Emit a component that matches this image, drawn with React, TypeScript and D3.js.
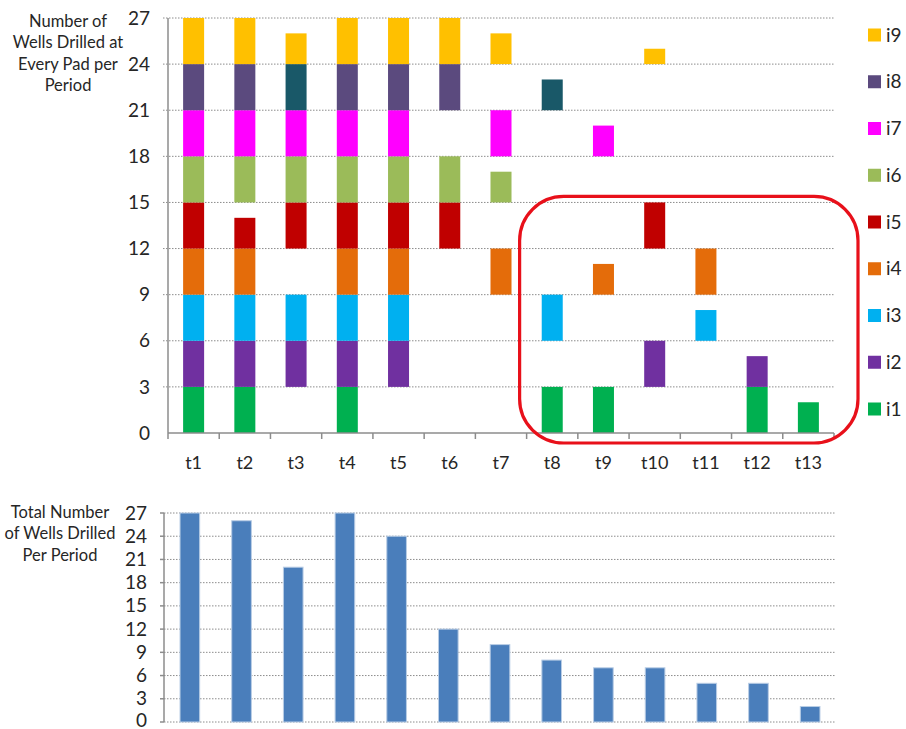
import React from 'react';
import * as d3 from 'd3';

const periods = ['t1', 't2', 't3', 't4', 't5', 't6', 't7', 't8', 't9', 't10', 't11', 't12', 't13'];
const pads = ['i1', 'i2', 'i3', 'i4', 'i5', 'i6', 'i7', 'i8', 'i9'];
// wells drilled at each pad (rows) in each period (columns)
const wellsI1 = [3, 3, 0, 3, 0, 0, 0, 3, 3, 0, 0, 3, 2];
const wellsI2 = [3, 3, 3, 3, 3, 0, 0, 0, 0, 3, 0, 2, 0];
const wellsI3 = [3, 3, 3, 3, 3, 0, 0, 3, 0, 0, 2, 0, 0];
const wellsI4 = [3, 3, 0, 3, 3, 0, 3, 0, 2, 0, 3, 0, 0];
const wellsI5 = [3, 2, 3, 3, 3, 3, 0, 0, 0, 3, 0, 0, 0];
const wellsI6 = [3, 3, 3, 3, 3, 3, 2, 0, 0, 0, 0, 0, 0];
const wellsI7 = [3, 3, 3, 3, 3, 0, 3, 0, 2, 0, 0, 0, 0];
const wellsI8 = [3, 3, 3, 3, 3, 3, 0, 2, 0, 0, 0, 0, 0];
const wellsI9 = [3, 3, 2, 3, 3, 3, 2, 0, 0, 1, 0, 0, 0];
const wellsByPad = [wellsI1, wellsI2, wellsI3, wellsI4, wellsI5, wellsI6, wellsI7, wellsI8, wellsI9];
const totals = [27, 26, 20, 27, 24, 12, 10, 8, 7, 7, 5, 5, 2];
const yTicks = [0, 3, 6, 9, 12, 15, 18, 21, 24, 27];
const slotSize = 3;
const altCells = [['i8', 't3'], ['i8', 't8']];
const highlightFrom = 't8';
const highlightTo = 't13';

const padColors = ['#00B050', '#7030A0', '#00B0F0', '#E46C0A', '#C00000', '#9BBB59', '#FF00FF', '#5B4A7E', '#FFC000'];
const altColor = '#195868';
const FONT = 'Lato, "Open Sans", sans-serif';

export default function App() {
  const W = 906, H = 729;
  // top chart
  const tx0 = 168, tx1 = 834, ty0 = 433, ty1 = 18;
  const xTop = d3.scaleBand<string>().domain(periods).range([tx0, tx1]).padding(0);
  const yTop = d3.scaleLinear().domain([0, 27]).range([ty0, ty1]);
  const bwTop = xTop.bandwidth() * 0.41;

  // bottom chart
  const bx0 = 164, bx1 = 836, by0 = 722, by1 = 513;
  const xBot = d3.scaleBand<string>().domain(periods).range([bx0, bx1]).padding(0);
  const yBot = d3.scaleLinear().domain([0, 27]).range([by0, by1]);
  const bwBot = xBot.bandwidth() * 0.38;

  const isAlt = (p: string, t: string) => altCells.some(([a, b]) => a === p && b === t);

  const segs: { x: number; y: number; h: number; c: string; key: string }[] = [];
  pads.forEach((p, k) => {
    wellsByPad[k].forEach((v, j) => {
      if (v <= 0) return;
      const t = periods[j];
      const base = k * slotSize;
      segs.push({
        key: p + t,
        x: (xTop(t) as number) + (xTop.bandwidth() - bwTop) / 2,
        y: yTop(base + v),
        h: yTop(base) - yTop(base + v),
        c: isAlt(p, t) ? altColor : padColors[k],
      });
    });
  });

  const legendY = d3.scaleLinear().domain([8, 0]).range([35, 409]);

  const hx0 = (xTop(highlightFrom) as number) - 7;
  const hx1 = (xTop(highlightTo) as number) + xTop.bandwidth() + 24;
  const hy0 = yTop(15) - 6;
  const hy1 = yTop(0) + 10;

  return (
    <svg width={W} height={H} style={{ position: 'absolute', left: 0, top: 0, background: '#fff' }} fontFamily={FONT}>
      {/* top grid */}
      {yTicks.filter((v) => v > 0).map((v) => (
        <line key={'tg' + v} x1={tx0 - 5} x2={tx1} y1={yTop(v)} y2={yTop(v)} stroke="#8c8c8c" strokeWidth={1} strokeDasharray="1.5,1.5" />
      ))}
      {segs.map((s) => (
        <rect key={s.key} x={s.x} y={s.y} width={bwTop} height={s.h} fill={s.c} />
      ))}
      {/* top axes */}
      <line x1={tx0} x2={tx0} y1={ty1} y2={ty0} stroke="#8c8c8c" strokeWidth={1.5} />
      <line x1={tx0} x2={tx1} y1={ty0} y2={ty0} stroke="#8c8c8c" strokeWidth={1.5} />
      {[...periods.map((t) => xTop(t) as number), tx1].map((x, i) => (
        <line key={'tt' + i} x1={x} x2={x} y1={ty0} y2={ty0 + 6} stroke="#8c8c8c" strokeWidth={1.5} />
      ))}
      {yTicks.map((v) => (
        <text key={'tyl' + v} x={150} y={yTop(v)} dy="0.35em" textAnchor="end" fontSize={19} fill="#262626">{v}</text>
      ))}
      {periods.map((t) => (
        <text key={'txl' + t} x={(xTop(t) as number) + xTop.bandwidth() / 2} y={463} dy="0.35em" textAnchor="middle" fontSize={18} fill="#262626">{t}</text>
      ))}
      <text textAnchor="middle" fontSize={16.5} fill="#262626">
        {['Number of', 'Wells Drilled at', 'Every Pad per', 'Period'].map((l, i) => (
          <tspan key={l} x={68} y={21 + i * 21.5} dy="0.35em">{l}</tspan>
        ))}
      </text>
      {/* highlight */}
      <rect x={hx0} y={hy0} width={hx1 - hx0} height={hy1 - hy0} rx={44} ry={44} fill="none" stroke="#E8101A" strokeWidth={3.2} />
      {/* legend */}
      {pads.map((p, k) => (
        <g key={'lg' + p} transform={`translate(868,${legendY(k)})`}>
          <rect x={0} y={-6.5} width={13} height={13} fill={padColors[k]} />
          <text x={18} y={0} dy="0.35em" fontSize={19} fill="#262626">{p}</text>
        </g>
      ))}

      {/* bottom chart */}
      {yTicks.map((v) => (
        <line key={'bg' + v} x1={bx0} x2={bx1} y1={yBot(v)} y2={yBot(v)} stroke="#8c8c8c" strokeWidth={1} strokeDasharray="1.5,1.5" />
      ))}
      {totals.map((v, j) => (
        <rect key={'bb' + j} x={(xBot(periods[j]) as number) + (xBot.bandwidth() - bwBot) / 2} y={yBot(v)} width={bwBot} height={yBot(0) - yBot(v)} fill="#4A7EBB" stroke="#B9CDE5" strokeWidth={1} />
      ))}
      <line x1={bx0} x2={bx0} y1={by1} y2={by0} stroke="#8c8c8c" strokeWidth={1.5} />
      {yTicks.map((v) => (
        <line key={'bt' + v} x1={bx0 - 4} x2={bx0} y1={yBot(v)} y2={yBot(v)} stroke="#8c8c8c" strokeWidth={1.5} />
      ))}
      {yTicks.map((v) => (
        <text key={'byl' + v} x={147} y={Math.min(yBot(v) + 6.6, 727)} textAnchor="end" fontSize={19} fill="#262626">{v}</text>
      ))}
      <text textAnchor="middle" fontSize={16.5} fill="#262626">
        {['Total Number', 'of Wells Drilled', 'Per Period'].map((l, i) => (
          <tspan key={l} x={60} y={512 + i * 21.5} dy="0.35em">{l}</tspan>
        ))}
      </text>
    </svg>
  );
}
